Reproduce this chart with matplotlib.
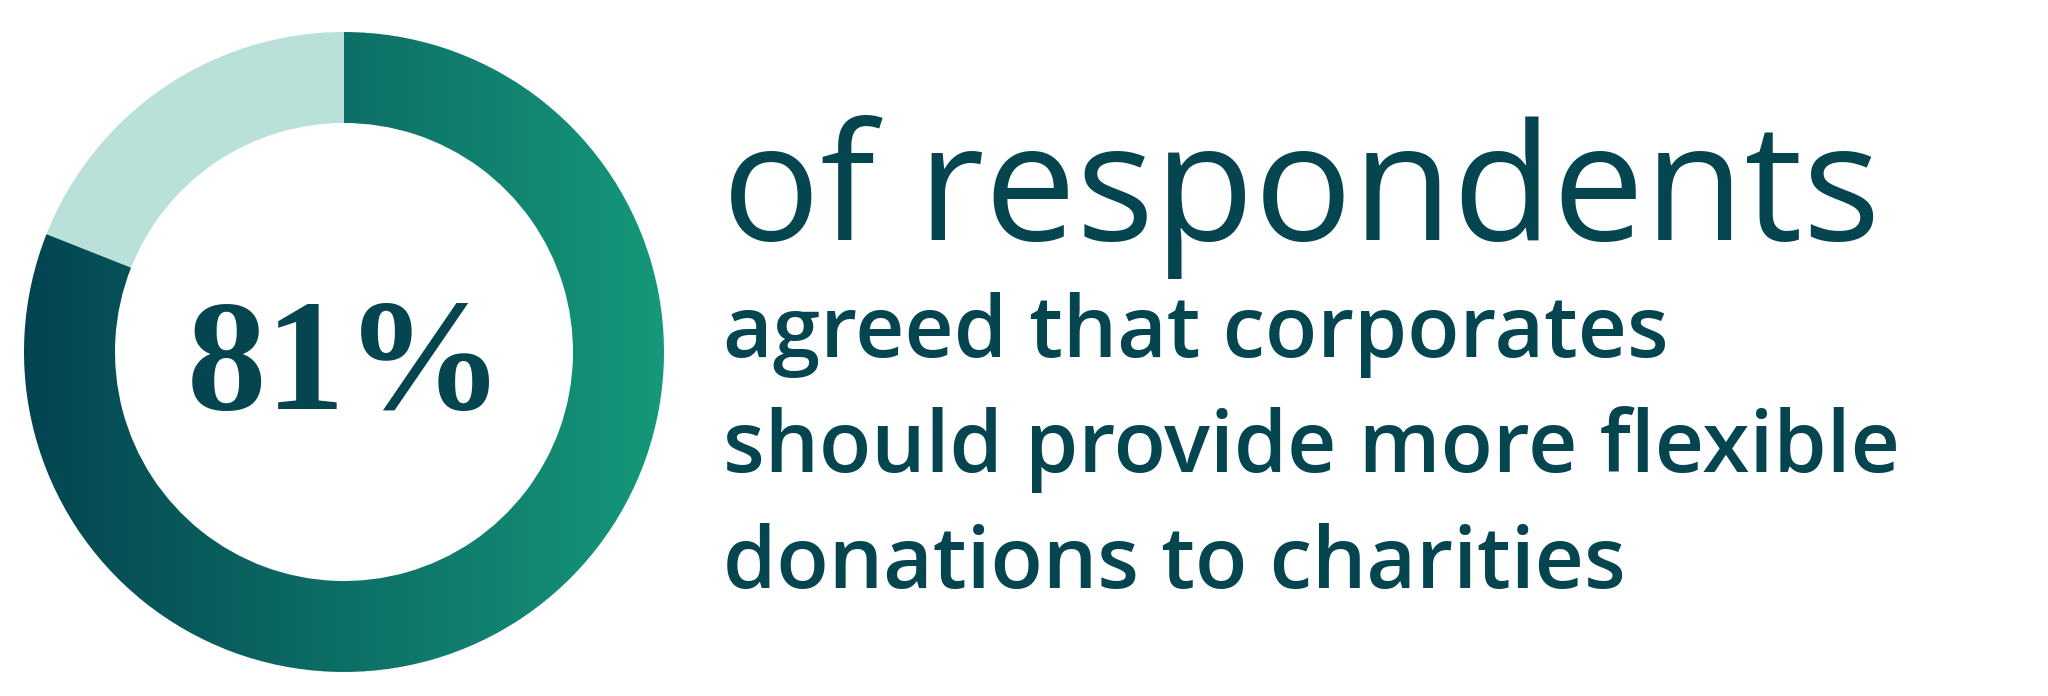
import matplotlib
matplotlib.use("Agg")
import matplotlib.pyplot as plt
import numpy as np
from matplotlib.colors import LinearSegmentedColormap

# ---- data ----
share_labels = ["Agreed", "Other"]
share_values = [81, 19]
big_label = "81%"
headline = "of respondents"
body_lines = ["agreed that corporates",
              "should provide more flexible",
              "donations to charities"]

# ---- style ----
W, H = 2048, 696
TEXT = "#04454f"
LIGHT = "#b9e1d9"
grad_cmap = LinearSegmentedColormap.from_list("g", ["#034450", "#0d6f66", "#16987a"])

fig = plt.figure(figsize=(W / 100, H / 100), dpi=100)
ax = fig.add_axes([0, 0, 1, 1])

cx, cy, R, ring = 344, H - 352, 320, 91
wedges, _ = ax.pie(share_values, startangle=90, counterclock=False,
                   radius=R, center=(cx, cy),
                   colors=["none", LIGHT],
                   wedgeprops=dict(width=ring, linewidth=0))

# gradient fill for the main wedge
grad = np.linspace(0, 1, 512).reshape(1, -1)
im = ax.imshow(grad, cmap=grad_cmap, extent=[cx - R, cx + R, cy - R, cy + R],
               aspect="auto", zorder=1, interpolation="bilinear")
im.set_clip_path(wedges[0])

ax.set_xlim(0, W)
ax.set_ylim(0, H)
ax.set_aspect("auto")
ax.axis("off")

def fit(t, target_w):
    fig.canvas.draw()
    bb = t.get_window_extent()
    t.set_fontsize(t.get_fontsize() * target_w / bb.width)

t81 = ax.text(cx + 2, H - 409, big_label, ha="center", va="baseline",
              fontsize=100, fontweight="bold", family=["Liberation Serif", "DejaVu Serif"],
              color=TEXT, zorder=3)
fit(t81, 318)

sans = ["Open Sans", "Lato", "DejaVu Sans"]
th = ax.text(722, H - 240, headline, ha="left", va="baseline", fontsize=100,
             family=sans, color=TEXT, zorder=3)
fit(th, 1158)

targets = [(357, 944), (472, 1173), (588, 901)]
for line, (base, wdt) in zip(body_lines, targets):
    t = ax.text(723, H - base, line, ha="left", va="baseline", fontsize=40,
                family=sans, fontweight="semibold", color=TEXT, zorder=3)
    fit(t, wdt)

fig.savefig("out.png", dpi=100, facecolor="white")
